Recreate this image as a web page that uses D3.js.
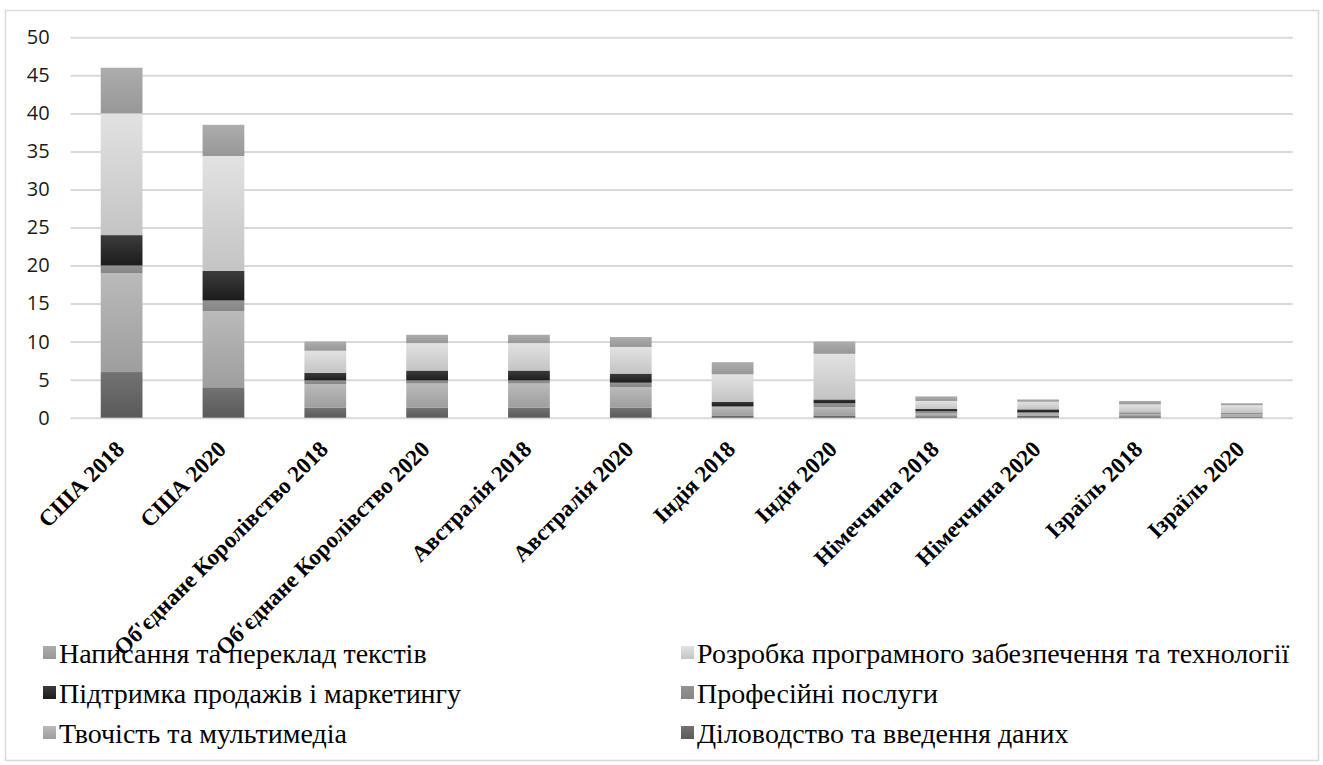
<!DOCTYPE html>
<html>
<head>
<meta charset="utf-8">
<script src="https://cdn.jsdelivr.net/npm/d3@7"></script>
<style>
  html, body { margin: 0; padding: 0; background: #ffffff; }
  svg { display: block; }
</style>
</head>
<body>
<svg id="chart" width="1323" height="765"></svg>
<script>
// Countries and years along the x axis
const categories = [
  "США 2018", "США 2020",
  "Об'єднане Королівство 2018", "Об'єднане Королівство 2020",
  "Австралія 2018", "Австралія 2020",
  "Індія 2018", "Індія 2020",
  "Німеччина 2018", "Німеччина 2020",
  "Ізраїль 2018", "Ізраїль 2020"
];

// Series values, stacked from the bottom up
const admin        = [6, 4, 1.3, 1.3, 1.3, 1.3, 0.3, 0.3, 0.2, 0.25, 0.2, 0.15];
const creative     = [13, 10, 3.1, 3.2, 3.2, 2.7, 1.1, 1.1, 0.35, 0.3, 0.3, 0.3];
const professional = [1, 1.4, 0.5, 0.4, 0.4, 0.6, 0.1, 0.5, 0.3, 0.15, 0.15, 0.15];
const sales        = [4, 3.9, 1.0, 1.3, 1.3, 1.2, 0.6, 0.5, 0.3, 0.4, 0.05, 0.05];
const software     = [16, 15.1, 2.9, 3.6, 3.6, 3.5, 3.6, 6.0, 1.05, 1.0, 1.05, 1.0];
const writing      = [6, 4.1, 1.2, 1.1, 1.1, 1.3, 1.6, 1.6, 0.6, 0.3, 0.45, 0.25];

const seriesNames = {
  writing: "Написання та переклад текстів",
  software: "Розробка програмного забезпечення та технології",
  sales: "Підтримка продажів і маркетингу",
  professional: "Професійні послуги",
  creative: "Твочість та мультимедіа",
  admin: "Діловодство та введення даних"
};

const yTicks = [0, 5, 10, 15, 20, 25, 30, 35, 40, 45, 50];

// Stack order (bottom to top) and legend order
const stackKeys = ["admin", "creative", "professional", "sales", "software", "writing"];
const legendKeys = ["writing", "software", "sales", "professional", "creative", "admin"];

// Grey gradient for each series: [top colour, bottom colour]
const shades = {
  writing:      ["#adadad", "#979797"],
  software:     ["#e2e2e2", "#c4c4c4"],
  sales:        ["#3c3c3c", "#1c1c1c"],
  professional: ["#939393", "#858585"],
  creative:     ["#bababa", "#9e9e9e"],
  admin:        ["#727272", "#5a5a5a"]
};

const seriesData = { admin, creative, professional, sales, software, writing };
const table = categories.map((c, i) => {
  const row = { category: c };
  stackKeys.forEach(k => { row[k] = seriesData[k][i]; });
  return row;
});

const svg = d3.select("#chart");

// Chart frame
svg.append("rect")
  .attr("x", 5.5).attr("y", 10.5)
  .attr("width", 1313).attr("height", 750)
  .attr("fill", "#ffffff")
  .attr("stroke", "#d9d9d9")
  .attr("stroke-width", 1.5);

const defs = svg.append("defs");
stackKeys.forEach(k => {
  const g = defs.append("linearGradient")
    .attr("id", "grad-" + k)
    .attr("x1", 0).attr("y1", 0).attr("x2", 0).attr("y2", 1);
  g.append("stop").attr("offset", "0%").attr("stop-color", shades[k][0]);
  g.append("stop").attr("offset", "100%").attr("stop-color", shades[k][1]);
});

const plot = { left: 70.7, right: 1292.7, top: 37.3, bottom: 417.7 };

const x = d3.scaleBand()
  .domain(categories)
  .range([plot.left, plot.right])
  .paddingInner(0.59)
  .paddingOuter(0.295);

const y = d3.scaleLinear()
  .domain([0, 50])
  .range([plot.bottom, plot.top]);

// Horizontal gridlines
const yAxis = d3.axisLeft(y)
  .tickValues(yTicks)
  .tickSize(-(plot.right - plot.left))
  .tickPadding(21)
  .tickFormat(d3.format("d"));

const gy = svg.append("g")
  .attr("transform", `translate(${plot.left},0)`)
  .call(yAxis);
gy.select(".domain").remove();
gy.selectAll(".tick line")
  .attr("stroke", "#d9d9d9")
  .attr("stroke-width", 2);
gy.selectAll(".tick text")
  .attr("fill", "#1a1a1a")
  .style("font-family", "'Open Sans', 'Liberation Sans', sans-serif")
  .style("font-size", "20px");

// Stacked bars
const stacked = d3.stack().keys(stackKeys)(table);

svg.append("g")
  .selectAll("g")
  .data(stacked)
  .join("g")
  .attr("fill", d => `url(#grad-${d.key})`)
  .selectAll("rect")
  .data(d => d)
  .join("rect")
  .attr("x", d => x(d.data.category))
  .attr("width", x.bandwidth())
  .attr("y", d => y(d[1]))
  .attr("height", d => y(d[0]) - y(d[1]));

// Category labels, rotated 45°
const xAxis = d3.axisBottom(x).tickSize(0).tickPadding(0);
const gx = svg.append("g")
  .attr("transform", `translate(0,${plot.bottom})`)
  .call(xAxis);
gx.select(".domain").remove();
gx.selectAll(".tick text")
  .attr("text-anchor", "end")
  .attr("dy", 0)
  .attr("transform", "translate(4,33) rotate(-45)")
  .attr("fill", "#000000")
  .style("font-family", "'Liberation Serif', 'Times New Roman', serif")
  .style("font-weight", "bold")
  .style("font-size", "23px");

// Legend in two columns
const legendCols = [43, 681];
const legendRows = [653, 693, 733];
const legend = svg.append("g")
  .selectAll("g")
  .data(legendKeys)
  .join("g")
  .attr("transform", (k, i) => `translate(${legendCols[i % 2]},${legendRows[Math.floor(i / 2)]})`);

legend.append("rect")
  .attr("x", 0).attr("y", -7)
  .attr("width", 13).attr("height", 13)
  .attr("fill", k => `url(#grad-${k})`);

legend.append("text")
  .attr("x", 16)
  .attr("y", 0)
  .attr("dy", "0.35em")
  .attr("fill", "#000000")
  .style("font-family", "'Liberation Serif', 'Times New Roman', serif")
  .style("font-size", "28px")
  .text(k => seriesNames[k]);
</script>
</body>
</html>
